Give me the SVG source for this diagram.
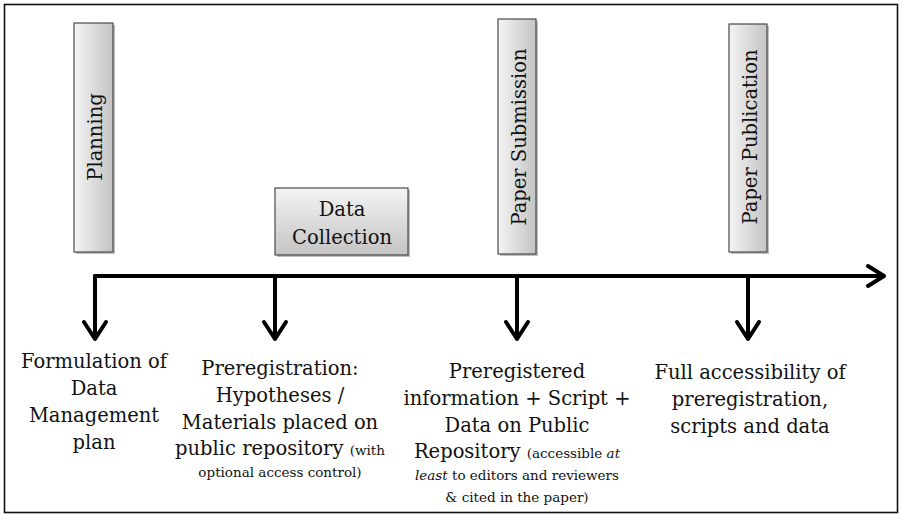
<svg xmlns="http://www.w3.org/2000/svg" width="902" height="519" viewBox="0 0 902 519">
  <defs>
    <linearGradient id="gv" x1="0" y1="0" x2="1" y2="0">
      <stop offset="0" stop-color="#f4f4f4"/>
      <stop offset="1" stop-color="#c4c4c4"/>
    </linearGradient>
    <linearGradient id="gh" x1="0" y1="0" x2="0" y2="1">
      <stop offset="0" stop-color="#f4f4f4"/>
      <stop offset="1" stop-color="#c4c4c4"/>
    </linearGradient>
  </defs>
  <style>
    .shadow { fill: #8a8a8a; opacity: 0.55; }
    .box { stroke: #4a4a4a; stroke-width: 1.2; }
    .t { font-family: "DejaVu Serif", "Liberation Serif", serif; font-size: 19.5px; fill: #111; text-anchor: middle; }
    .s { font-size: 13.5px; }
    .i { font-style: italic; }
    .conn { fill: none; stroke: #000; stroke-width: 4; stroke-linecap: round; stroke-linejoin: round; }
  </style>
  <rect x="0" y="0" width="902" height="519" fill="#fff"/>
  <rect x="4.5" y="4.5" width="893" height="508" fill="none" stroke="#111" stroke-width="1.6"/>

  <g id="planning">
    <rect class="shadow" x="76" y="25" width="39" height="229"/>
    <rect class="box" x="74" y="23" width="39" height="229" fill="url(#gv)"/>
    <text class="t" transform="translate(102,137) rotate(-90)">Planning</text>
  </g>
  <g id="data-collection">
    <rect class="shadow" x="277" y="190" width="133" height="67"/>
    <rect class="box" x="275" y="188" width="133" height="67" fill="url(#gh)"/>
    <text class="t" x="342" y="216">Data</text>
    <text class="t" x="342" y="244">Collection</text>
  </g>
  <g id="paper-submission">
    <rect class="shadow" x="500" y="21" width="38" height="235"/>
    <rect class="box" x="498" y="19" width="38" height="235" fill="url(#gv)"/>
    <text class="t" transform="translate(526,137) rotate(-90)">Paper Submission</text>
  </g>
  <g id="paper-publication">
    <rect class="shadow" x="731" y="26" width="38" height="228"/>
    <rect class="box" x="729" y="24" width="38" height="228" fill="url(#gv)"/>
    <text class="t" transform="translate(757,137) rotate(-90)">Paper Publication</text>
  </g>

  <g id="connectors">
    <path class="conn" d="M95,276 H884 M868,266 L884,276 L868,286"/>
    <path class="conn" d="M95,276 V339 M84,322 L95,339 L106,322"/>
    <path class="conn" d="M275,276 V339 M264,322 L275,339 L286,322"/>
    <path class="conn" d="M517,276 V339 M506,322 L517,339 L528,322"/>
    <path class="conn" d="M748,276 V339 M737,322 L748,339 L759,322"/>
  </g>

  <g id="formulation">
    <text class="t" x="94" y="368">Formulation of</text>
    <text class="t" x="94" y="395">Data</text>
    <text class="t" x="94" y="422">Management</text>
    <text class="t" x="94" y="449">plan</text>
  </g>
  <g id="preregistration">
    <text class="t" x="280" y="375">Preregistration:</text>
    <text class="t" x="280" y="402">Hypotheses /</text>
    <text class="t" x="280" y="429">Materials placed on</text>
    <text class="t" x="280" y="455">public repository <tspan class="s">(with</tspan></text>
    <text class="t s" x="280" y="477">optional access control)</text>
  </g>
  <g id="preregistered-info">
    <text class="t" x="517" y="378">Preregistered</text>
    <text class="t" x="517" y="405">information + Script +</text>
    <text class="t" x="517" y="432">Data on Public</text>
    <text class="t" x="517" y="458">Repository <tspan class="s">(accessible <tspan class="i">at</tspan></tspan></text>
    <text class="t s" x="517" y="480"><tspan class="i">least</tspan> to editors and reviewers</text>
    <text class="t s" x="517" y="502">&amp; cited in the paper)</text>
  </g>
  <g id="full-accessibility">
    <text class="t" x="750" y="379">Full accessibility of</text>
    <text class="t" x="750" y="406">preregistration,</text>
    <text class="t" x="750" y="433">scripts and data</text>
  </g>
</svg>
